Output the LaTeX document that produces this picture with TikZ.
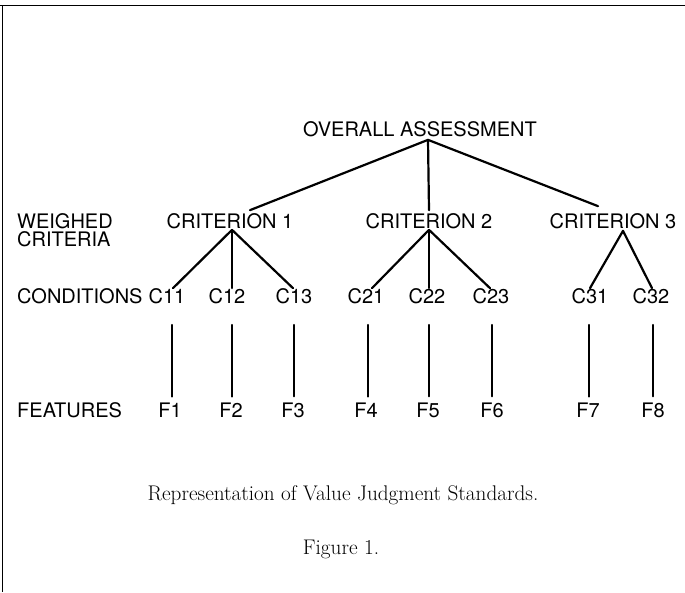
\documentclass[tikz,border=0pt]{standalone}
\usepackage{fontspec}
\newfontfamily\hv{TeX Gyre Heros}
\begin{document}
\begin{tikzpicture}[x=1pt,y=-1pt,
  lbl/.style={font=\hv\fontsize{20}{18}\selectfont, inner sep=0pt},
  capt/.style={font=\fontsize{21.2}{24}\selectfont, inner sep=0pt, anchor=base},
  edge/.style={line width=2.2pt, line cap=round},
  frame/.style={line width=1.6pt}]
\useasboundingbox (0,0) rectangle (685,592);
% frame
\draw[frame] (0,5.5) -- (685,5.5);
\draw[frame] (2.5,5) -- (2.5,592);
% level labels
\node[lbl, anchor=west, align=left] (wc) at (17,230) {WEIGHED\\CRITERIA};
\node[lbl, anchor=west] (cond) at (17,296) {CONDITIONS};
\node[lbl, anchor=west] (feat) at (17,410) {FEATURES};
% tree nodes
\node[lbl] (root) at (420,129) {OVERALL ASSESSMENT};
\node[lbl] (cr1) at (230,221) {CRITERION 1};
\node[lbl] (cr2) at (429,221) {CRITERION 2};
\node[lbl] (cr3) at (613,221) {CRITERION 3};
\node[lbl] (c11) at (167,296) {C11};
\node[lbl] (c12) at (227,296) {C12};
\node[lbl] (c13) at (294,296) {C13};
\node[lbl] (c21) at (366,296) {C21};
\node[lbl] (c22) at (427,296) {C22};
\node[lbl] (c23) at (491,296) {C23};
\node[lbl] (c31) at (590,296) {C31};
\node[lbl] (c32) at (651,296) {C32};
\node[lbl] (f1) at (170,410) {F1};
\node[lbl] (f2) at (231,410) {F2};
\node[lbl] (f3) at (293,410) {F3};
\node[lbl] (f4) at (366,410) {F4};
\node[lbl] (f5) at (428,410) {F5};
\node[lbl] (f6) at (492,410) {F6};
\node[lbl] (f7) at (588,410) {F7};
\node[lbl] (f8) at (653,410) {F8};
% caption
\node[capt] (cap1) at (343,500) {Representation of Value Judgment Standards.};
\node[capt] (cap2) at (341,554) {Figure 1.};
% root connectors
\coordinate (rh) at ([xshift=8pt,yshift=-3pt]root.south);
\draw[edge] (rh) -- ([xshift=20pt,yshift=3pt]cr1.north);
\draw[edge] (rh) -- ([yshift=3pt]cr2.north);
\draw[edge] (rh) -- ([xshift=-15pt,yshift=7pt]cr3.north);
% criterion hubs
\coordinate (h1) at ([xshift=2pt,yshift=-1pt]cr1.south);
\coordinate (h2) at ([yshift=-1pt]cr2.south);
\coordinate (h3) at ([xshift=10pt,yshift=-2pt]cr3.south);
\draw[edge] (h1) -- ([xshift=6pt]c11.north);
\draw[edge] (h1) -- ([xshift=5pt]c12.north);
\draw[edge] (h1) -- ([xshift=-1pt]c13.north);
\draw[edge] (h2) -- ([xshift=6pt]c21.north);
\draw[edge] (h2) -- ([xshift=2pt]c22.north);
\draw[edge] (h2) -- ([xshift=-1pt]c23.north);
\draw[edge] (h3) -- (c31.north);
\draw[edge] (h3) -- ([xshift=1pt]c32.north);
% condition to feature
\draw[edge] ([xshift=5pt,yshift=-21pt]c11.south) -- ([xshift=2pt,yshift=6pt]f1.north);
\draw[edge] ([xshift=5pt,yshift=-21pt]c12.south) -- ([xshift=1pt,yshift=6pt]f2.north);
\draw[edge] ([xshift=0pt,yshift=-21pt]c13.south) -- ([xshift=1pt,yshift=6pt]f3.north);
\draw[edge] ([xshift=2pt,yshift=-21pt]c21.south) -- ([xshift=2pt,yshift=6pt]f4.north);
\draw[edge] ([xshift=2pt,yshift=-21pt]c22.south) -- ([xshift=1pt,yshift=6pt]f5.north);
\draw[edge] ([xshift=1pt,yshift=-21pt]c23.south) -- ([xshift=0pt,yshift=6pt]f6.north);
\draw[edge] ([xshift=-1pt,yshift=-21pt]c31.south) -- ([xshift=1pt,yshift=6pt]f7.north);
\draw[edge] ([xshift=2pt,yshift=-21pt]c32.south) -- ([xshift=0pt,yshift=6pt]f8.north);
\end{tikzpicture}
\end{document}
